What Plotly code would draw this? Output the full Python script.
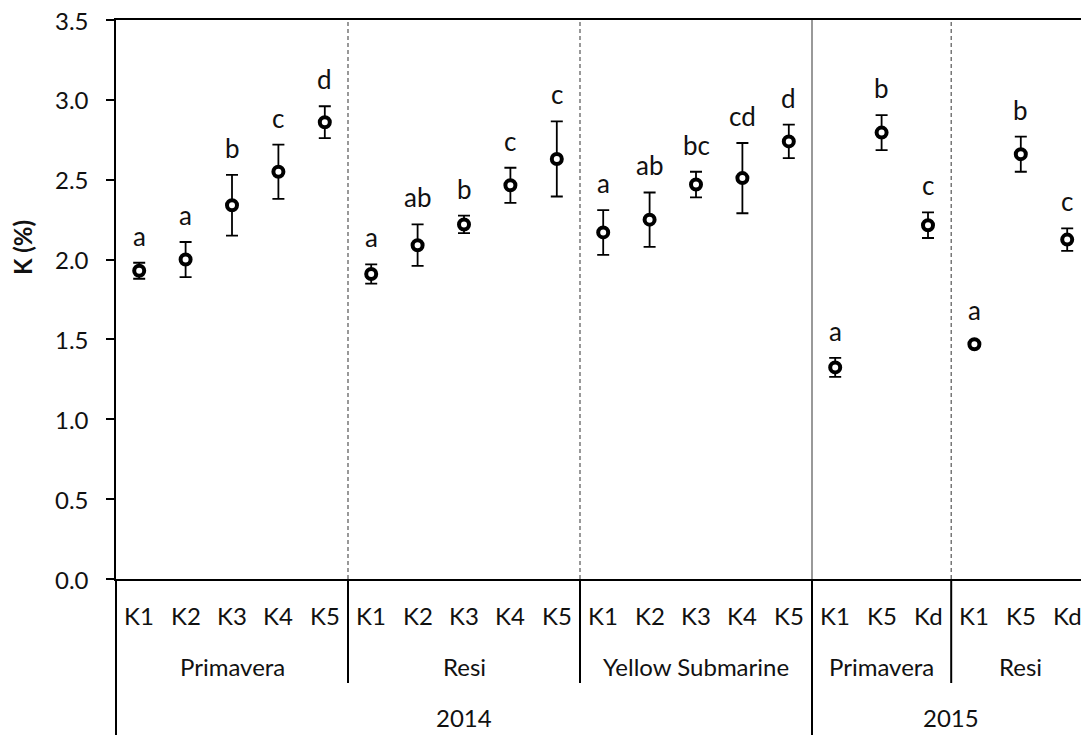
import plotly.graph_objects as go

# ---------------- data ----------------
treatments = ["K1", "K2", "K3", "K4", "K5",
              "K1", "K2", "K3", "K4", "K5",
              "K1", "K2", "K3", "K4", "K5",
              "K1", "K5", "Kd",
              "K1", "K5", "Kd"]
cultivars = ["Primavera", "Resi", "Yellow Submarine", "Primavera", "Resi"]
cultivar_sizes = [5, 5, 5, 3, 3]
years = ["2014", "2015"]
year_sizes = [15, 6]

k_mean = [1.93, 2.00, 2.34, 2.55, 2.86,
          1.91, 2.09, 2.22, 2.465, 2.63,
          2.17, 2.25, 2.47, 2.51, 2.74,
          1.325, 2.795, 2.215,
          1.47, 2.66, 2.125]
k_err = [0.05, 0.11, 0.19, 0.17, 0.10,
         0.06, 0.13, 0.055, 0.11, 0.235,
         0.14, 0.17, 0.08, 0.22, 0.105,
         0.06, 0.11, 0.08,
         0.01, 0.11, 0.07]
letters = ["a", "a", "b", "c", "d",
           "a", "ab", "b", "c", "c",
           "a", "ab", "bc", "cd", "d",
           "a", "b", "c",
           "a", "b", "c"]

y_ticks = [0.0, 0.5, 1.0, 1.5, 2.0, 2.5, 3.0, 3.5]

# ---------------- layout constants ----------------
W, H = 1081, 735
L, T, B = 116, 20, 156
plot_h = H - T - B
cat_w = 46.4
plot_w = W - L

FONT = "Lato, 'Open Sans', sans-serif"
TXT = "#111111"

def py(px_below_axis):
    """paper y for a pixel distance below the x axis"""
    return -px_below_axis / plot_h

x = list(range(len(treatments)))

fig = go.Figure()
fig.add_trace(go.Scatter(
    x=x, y=k_mean, mode="markers",
    marker=dict(symbol="circle", size=10, color="white",
                line=dict(color="black", width=4)),
    error_y=dict(type="data", array=k_err, visible=True,
                 color="black", thickness=1.8, width=6),
    showlegend=False, hoverinfo="skip",
))

annotations = []
# y tick labels (placed further from the ticks than plotly's default)
for v in y_ticks:
    annotations.append(dict(
        x=-(L - 91) / plot_w, y=v, xref="paper", yref="y",
        text=f"{v:.1f}", showarrow=False, xanchor="right", yanchor="middle",
        font=dict(family=FONT, size=24, color=TXT)))

# significance letters
for i, (m, e, l) in enumerate(zip(k_mean, k_err, letters)):
    annotations.append(dict(
        x=i, y=m + max(e, 0.045), xref="x", yref="y", text=l,
        showarrow=False, yanchor="middle", yshift=27,
        font=dict(family=FONT, size=26, color=TXT)))

# treatment labels
for i, t in enumerate(treatments):
    annotations.append(dict(
        x=i, y=py(36), xref="x", yref="paper", text=t, showarrow=False,
        yanchor="middle", font=dict(family=FONT, size=24, color=TXT)))

# cultivar labels and separators
shapes = []
start = 0
bounds = []
for name, n in zip(cultivars, cultivar_sizes):
    mid = start + (n - 1) / 2
    annotations.append(dict(
        x=mid, y=py(87), xref="x", yref="paper", text=name, showarrow=False,
        yanchor="middle", font=dict(family=FONT, size=24, color=TXT)))
    start += n
    bounds.append(start - 0.5)

year_bounds = []
start = 0
for name, n in zip(years, year_sizes):
    mid = start + (n - 1) / 2
    annotations.append(dict(
        x=mid, y=py(138), xref="x", yref="paper", text=name, showarrow=False,
        yanchor="middle", font=dict(family=FONT, size=24, color=TXT)))
    start += n
    year_bounds.append(start - 0.5)

for bx in bounds[:-1]:
    is_year = bx in year_bounds
    # inside the plot
    shapes.append(dict(
        type="line", xref="x", yref="paper", x0=bx, x1=bx, y0=0, y1=1,
        line=dict(color="#555555", width=1.2,
                  dash="solid" if is_year else "4px,3px"),
        layer="below"))
    # below the axis
    shapes.append(dict(
        type="line", xref="x", yref="paper", x0=bx, x1=bx, y0=0,
        y1=py(B) if is_year else py(104),
        line=dict(color="black", width=2)))

# y axis extension downwards
shapes.append(dict(type="line", xref="paper", yref="paper", x0=0, x1=0,
                   y0=0, y1=py(B), line=dict(color="black", width=2)))

# y axis title
annotations.append(dict(
    x=-(L - 22) / plot_w, y=0.5 - (248 - (T + plot_h / 2)) / plot_h,
    xref="paper", yref="paper", text="<b>K (%)</b>", textangle=-90,
    showarrow=False, xanchor="center", yanchor="middle",
    font=dict(family=FONT, size=24, color=TXT)))

fig.update_layout(
    width=W, height=H,
    margin=dict(l=L, r=0, t=T, b=B, pad=0),
    paper_bgcolor="white", plot_bgcolor="white",
    annotations=annotations, shapes=shapes,
    xaxis=dict(range=[-0.5, -0.5 + plot_w / cat_w], showticklabels=False,
               ticks="", showgrid=False, zeroline=False,
               showline=True, linecolor="black", linewidth=2, mirror=True),
    yaxis=dict(range=[0, 3.5], tickvals=y_ticks, showticklabels=False,
               ticks="outside", ticklen=8, tickwidth=2, tickcolor="black",
               showgrid=False, zeroline=False, showline=True,
               linecolor="black", linewidth=2),
)

fig.write_html("out.html")
